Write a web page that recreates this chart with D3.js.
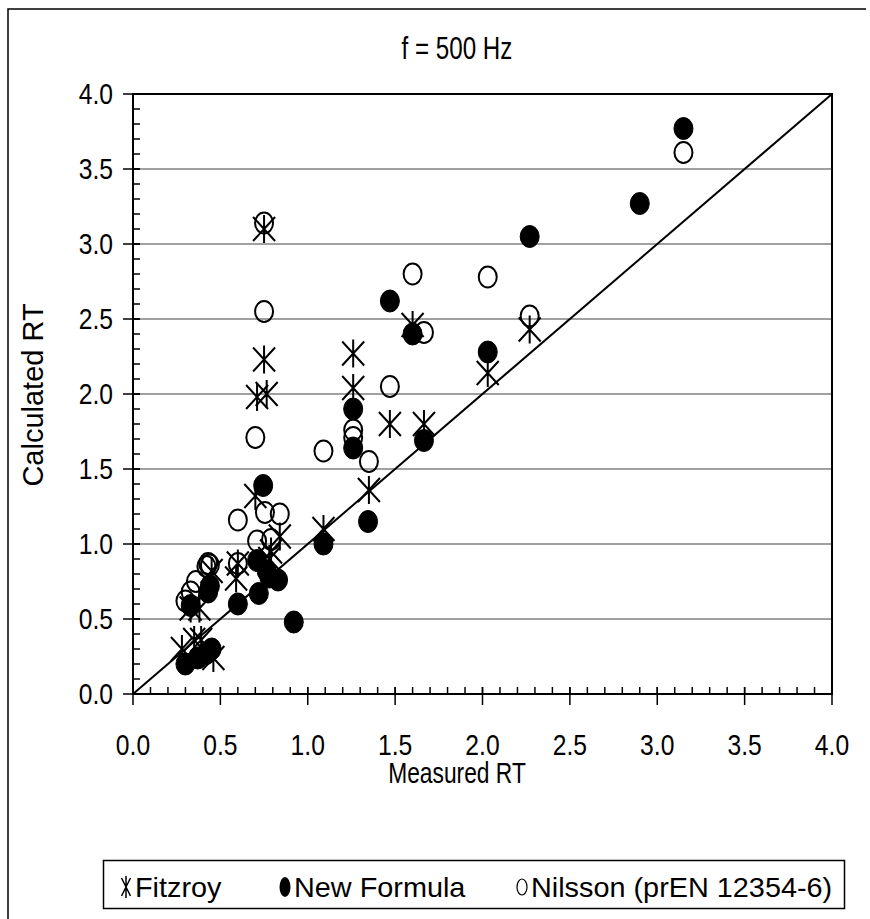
<!DOCTYPE html>
<html>
<head>
<meta charset="utf-8">
<script src="https://cdn.jsdelivr.net/npm/d3@7"></script>
<style>
  body { margin: 0; background: #fff; }
  text { font-family: "Liberation Sans", Arial, sans-serif; fill: #000; }
</style>
</head>
<body>
<script>
const WIDTH = 870;
const HEIGHT = 919;
const PLOT = { left: 133, right: 832, top: 94, bottom: 694 };

// Measured RT vs calculated RT, f = 500 Hz
const fitzroy = [
  [2.27, 2.43], [2.03, 2.14], [1.665, 1.80], [1.60, 2.46], [1.47, 1.80],
  [1.35, 1.36], [1.26, 2.27], [1.26, 2.04], [1.09, 1.10], [0.75, 3.10],
  [0.75, 2.23], [0.71, 1.98], [0.765, 2.00], [0.70, 1.32], [0.84, 1.05],
  [0.79, 0.95], [0.60, 0.87], [0.59, 0.77], [0.78, 0.90], [0.45, 0.82],
  [0.33, 0.57], [0.38, 0.57], [0.28, 0.30], [0.35, 0.36], [0.39, 0.36],
  [0.46, 0.24]
];
const newFormula = [
  [3.15, 3.77], [2.90, 3.27], [2.27, 3.05], [2.03, 2.28], [1.665, 1.69],
  [1.60, 2.40], [1.47, 2.62], [1.345, 1.15], [1.26, 1.90], [1.26, 1.64],
  [1.09, 1.00], [0.92, 0.48], [0.745, 1.39], [0.83, 0.76], [0.78, 0.78],
  [0.71, 0.89], [0.72, 0.67], [0.60, 0.60], [0.43, 0.68], [0.44, 0.72],
  [0.33, 0.59], [0.30, 0.20], [0.37, 0.24], [0.42, 0.27], [0.45, 0.30],
  [0.765, 0.82]
];
const nilsson = [
  [3.15, 3.61], [2.27, 2.52], [2.03, 2.78], [1.665, 2.41], [1.60, 2.80],
  [1.35, 1.55], [1.26, 1.76], [1.26, 1.71], [1.09, 1.62], [1.47, 2.05],
  [0.75, 3.14], [0.75, 2.55], [0.70, 1.71], [0.60, 1.16], [0.755, 1.21],
  [0.84, 1.20], [0.71, 1.02], [0.79, 1.03], [0.60, 0.87], [0.43, 0.87],
  [0.42, 0.85], [0.44, 0.86], [0.36, 0.75], [0.33, 0.68], [0.30, 0.62]
];
const majorTicks = [0, 0.5, 1, 1.5, 2, 2.5, 3, 3.5, 4];
const minorTicks = d3.range(0, 4.01, 0.1);
const legendItems = ["Fitzroy", "New Formula", "Nilsson (prEN 12354-6)"];

const svg = d3.select("body").append("svg")
  .attr("width", WIDTH)
  .attr("height", HEIGHT);

const x = d3.scaleLinear().domain([0, 4]).range([PLOT.left, PLOT.right]);
const y = d3.scaleLinear().domain([0, 4]).range([PLOT.bottom, PLOT.top]);

// the original chart is squeezed sideways, so text gets a horizontal scale
function label(g, px, py, str, size, sx, anchor, rot) {
  return g.append("text")
    .attr("transform", `translate(${px},${py}) rotate(${rot || 0}) scale(${sx},1)`)
    .attr("text-anchor", anchor || "middle")
    .style("font-size", size + "px")
    .text(str);
}

// outer frame (top + left visible)
svg.append("path")
  .attr("d", `M8,${HEIGHT} L8,9 L866,9`)
  .attr("fill", "none").attr("stroke", "#000").attr("stroke-width", 1.5);

// gridlines
svg.append("g").selectAll("line")
  .data(majorTicks.filter(d => d > 0 && d < 4))
  .join("line")
  .attr("x1", PLOT.left).attr("x2", PLOT.right)
  .attr("y1", d => y(d)).attr("y2", d => y(d))
  .attr("stroke", "#808080").attr("stroke-width", 1.5);

// plot frame
svg.append("rect")
  .attr("x", PLOT.left).attr("y", PLOT.top)
  .attr("width", PLOT.right - PLOT.left).attr("height", PLOT.bottom - PLOT.top)
  .attr("fill", "none").attr("stroke", "#000").attr("stroke-width", 2);

// diagonal y = x
svg.append("line")
  .attr("x1", x(0)).attr("y1", y(0)).attr("x2", x(4)).attr("y2", y(4))
  .attr("stroke", "#000").attr("stroke-width", 2);

// axes: major ticks cross, minor ticks inside
const xAxis = svg.append("g").attr("transform", `translate(0,${PLOT.bottom})`);
xAxis.selectAll(".minor").data(minorTicks).join("line")
  .attr("x1", d => x(d)).attr("x2", d => x(d)).attr("y1", 0).attr("y2", -7)
  .attr("stroke", "#000").attr("stroke-width", 1.5);
xAxis.selectAll(".major").data(majorTicks).join("line")
  .attr("x1", d => x(d)).attr("x2", d => x(d)).attr("y1", -7).attr("y2", 11)
  .attr("stroke", "#000").attr("stroke-width", 1.5);
majorTicks.forEach(d => label(xAxis, x(d), 61, d.toFixed(1), 29, 0.85));

const yAxis = svg.append("g").attr("transform", `translate(${PLOT.left},0)`);
yAxis.selectAll(".minor").data(minorTicks).join("line")
  .attr("y1", d => y(d)).attr("y2", d => y(d)).attr("x1", 0).attr("x2", 7)
  .attr("stroke", "#000").attr("stroke-width", 1.5);
yAxis.selectAll(".major").data(majorTicks).join("line")
  .attr("y1", d => y(d)).attr("y2", d => y(d)).attr("x1", -10).attr("x2", 7)
  .attr("stroke", "#000").attr("stroke-width", 1.5);
majorTicks.forEach(d => label(yAxis, -20, y(d) + 10, d.toFixed(1), 29, 0.85, "end"));

// titles
label(svg, 457, 59, "f = 500 Hz", 31, 0.78);
label(svg, 457, 783, "Measured RT", 30, 0.76);
label(svg, 43, 395, "Calculated RT", 29, 1.0, "middle", -90);

// markers
function starPath(s) {
  return `M0,${-s.v}L0,${s.v}M${-s.w},${-s.h}L${s.w},${s.h}M${-s.w},${s.h}L${s.w},${-s.h}`;
}
const bigStar = { v: 14, w: 11, h: 12 };

svg.append("g").selectAll("ellipse")
  .data(nilsson).join("ellipse")
  .attr("cx", d => x(d[0])).attr("cy", d => y(d[1]))
  .attr("rx", 9).attr("ry", 10.5)
  .attr("fill", "none").attr("stroke", "#000").attr("stroke-width", 2);

svg.append("g").selectAll("path")
  .data(fitzroy).join("path")
  .attr("transform", d => `translate(${x(d[0])},${y(d[1])})`)
  .attr("d", starPath(bigStar))
  .attr("fill", "none").attr("stroke", "#000").attr("stroke-width", 2);

svg.append("g").selectAll("ellipse")
  .data(newFormula).join("ellipse")
  .attr("cx", d => x(d[0])).attr("cy", d => y(d[1]))
  .attr("rx", 9.5).attr("ry", 11)
  .attr("fill", "#000").attr("stroke", "#000").attr("stroke-width", 1);

// legend
const legend = svg.append("g");
legend.append("rect")
  .attr("x", 103.5).attr("y", 860.5).attr("width", 741).attr("height", 48)
  .attr("fill", "#fff").attr("stroke", "#000").attr("stroke-width", 1.5);

const legendX = [126, 285, 522];
legend.append("path")
  .attr("transform", `translate(${legendX[0]},887)`)
  .attr("d", starPath({ v: 11, w: 4.5, h: 9 }))
  .attr("fill", "none").attr("stroke", "#000").attr("stroke-width", 1.5);
legend.append("ellipse")
  .attr("cx", legendX[1]).attr("cy", 887).attr("rx", 5.5).attr("ry", 10)
  .attr("fill", "#000");
legend.append("ellipse")
  .attr("cx", legendX[2]).attr("cy", 887).attr("rx", 5).attr("ry", 8)
  .attr("fill", "none").attr("stroke", "#000").attr("stroke-width", 1.2);

legendItems.forEach((d, i) => label(legend, legendX[i] + 9, 897, d, 28, 1.03, "start"));
</script>
</body>
</html>
